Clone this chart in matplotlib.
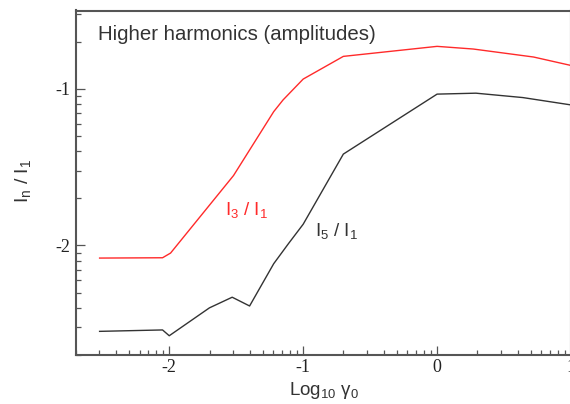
import numpy as np
import matplotlib
matplotlib.use("Agg")
import matplotlib.pyplot as plt

plt.rcParams['font.family'] = ['Liberation Sans', 'DejaVu Sans']
plt.rcParams['mathtext.fontset'] = 'custom'
plt.rcParams['mathtext.rm'] = 'Liberation Sans'
plt.rcParams['mathtext.default'] = 'regular'
plt.rcParams['axes.unicode_minus'] = False

# Data (log10 gamma0, log10 In/I1)
x_i3 = [-2.52, -2.05, -1.99, -1.52, -1.22, -1.15, -1.0, -0.70, 0.0, 0.27, 0.72, 1.0]
y_i3 = [-2.081, -2.079, -2.049, -1.554, -1.146, -1.071, -0.938, -0.793, -0.729, -0.746, -0.797, -0.851]

x_i5 = [-2.52, -2.05, -2.0, -1.70, -1.53, -1.40, -1.22, -1.11, -1.0, -0.70, 0.0, 0.29, 0.64, 1.0]
y_i5 = [-2.549, -2.540, -2.577, -2.399, -2.331, -2.387, -2.117, -1.989, -1.865, -1.417, -1.034, -1.028, -1.056, -1.103]

xticks = [-2, -1, 0, 1]
yticks = [-2, -1]

W, H = 570, 404
fig = plt.figure(figsize=(W/100, H/100), dpi=100)
left, right, top, bottom = 75.5, 571.0, 10.5, 355.0
ax = fig.add_axes([left/W, 1-bottom/H, (right-left)/W, (bottom-top)/H])

ax.plot(x_i3, y_i3, color='#ff2a2a', lw=1.0)
ax.plot(x_i5, y_i5, color='#333333', lw=1.0)

ax.set_xlim(-2.7, 1.0)
ax.set_ylim(-2.7, -0.5)

ax.set_xticks(xticks)
ax.set_xticklabels([str(t) for t in xticks])
ax.set_yticks(yticks)
ax.set_yticklabels([str(t) for t in yticks])

xminor = [d + np.log10(k) for d in [-3, -2, -1, 0] for k in range(2, 10)]
xminor = [v for v in xminor if -2.7 <= v <= 1.0]
yminor = [d + np.log10(k) for d in [-3, -2, -1] for k in range(2, 10)]
yminor = [v for v in yminor if -2.7 <= v <= -0.5]
ax.set_xticks(xminor, minor=True)
ax.set_yticks(yminor, minor=True)

for lab in ax.get_xticklabels() + ax.get_yticklabels():
    lab.set_fontfamily('Liberation Serif')
    lab.set_fontsize(13)
    lab.set_color('#222222')

ax.tick_params(which='major', direction='in', length=6.5, width=0.9, color='#555555')
ax.tick_params(axis='x', which='major', pad=3)
ax.tick_params(axis='y', which='major', pad=4)
ax.tick_params(which='minor', direction='in', length=3.6, width=0.9, color='#555555')
ax.tick_params(top=False, right=False, which='both')

for s in ax.spines.values():
    s.set_color('#555555')
    s.set_linewidth(1.5)

fig.text(98/W, 1-40/H, 'Higher harmonics (amplitudes)',
         ha='left', va='baseline', fontsize=14.7, color='#333333')

ax.text(-1.584, -1.808, r'I$_3$ / I$_1$', color='#ff2a2a', fontsize=13.5, ha='left', va='baseline')
ax.text(-0.913, -1.942, r'I$_5$ / I$_1$', color='#333333', fontsize=13.5, ha='left', va='baseline')

fig.text(23/W, 1-181/H, r'I$_n$ / I$_1$', rotation=90, ha='center', va='center', fontsize=14, color='#333333')
fig.text(324/W, 1-395/H, r'Log$_{10}$ γ$_0$', ha='center', va='baseline', fontsize=13.5, color='#333333')

fig.savefig('out.png', dpi=100)
